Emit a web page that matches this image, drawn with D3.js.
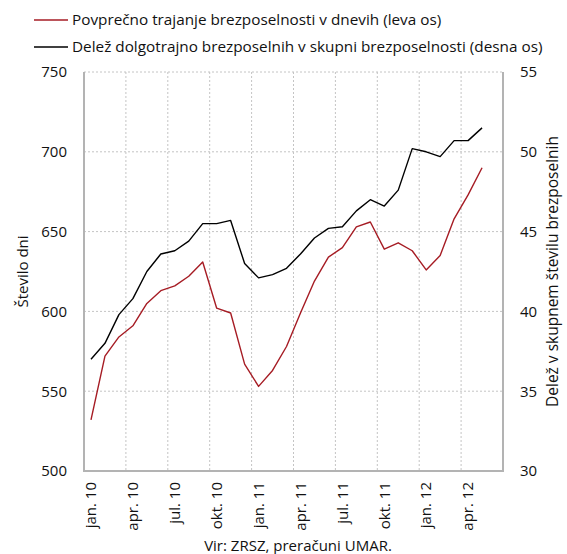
<!DOCTYPE html>
<html>
<head>
<meta charset="utf-8">
<script src="https://cdn.jsdelivr.net/npm/d3@7"></script>
<style>
  html, body { margin: 0; padding: 0; background: #fff; }
  svg { display: block; font-family: "Open Sans", "Noto Sans", sans-serif; }
</style>
</head>
<body>
<svg id="chart" width="567" height="554"></svg>
<script>
// ---- data ----
const months = ["jan. 10","feb. 10","mar. 10","apr. 10","maj. 10","jun. 10","jul. 10","avg. 10","sep. 10","okt. 10","nov. 10","dec. 10",
                "jan. 11","feb. 11","mar. 11","apr. 11","maj. 11","jun. 11","jul. 11","avg. 11","sep. 11","okt. 11","nov. 11","dec. 11",
                "jan. 12","feb. 12","mar. 12","apr. 12","maj. 12","jun. 12"];
const tickLabels = ["jan. 10","apr. 10","jul. 10","okt. 10","jan. 11","apr. 11","jul. 11","okt. 11","jan. 12","apr. 12"];
const durationDays = [532,572,584,591,605,613,616,622,631,602,599,567,553,563,578,599,619,634,640,653,656,639,643,638,626,635,658,673,690];
const longTermShare = [37.0,38.0,39.8,40.8,42.5,43.6,43.8,44.4,45.5,45.5,45.7,43.0,42.1,42.3,42.7,43.6,44.6,45.2,45.3,46.3,47.0,46.6,47.6,50.2,50.0,49.7,50.7,50.7,51.5];
const leftTicks = [500,550,600,650,700,750];
const rightTicks = [30,35,40,45,50,55];
const seriesNames = ["Povprečno trajanje brezposelnosti v dnevih (leva os)",
                     "Delež dolgotrajno brezposelnih v skupni brezposelnosti (desna os)"];
const leftTitle = "Število dni";
const rightTitle = "Delež v skupnem številu brezposelnih";
const sourceText = "Vir: ZRSZ, preračuni UMAR.";

// ---- layout ----
const plot = { left: 84, right: 503, top: 72, bottom: 471 };
const svg = d3.select("#chart");

const x = d3.scaleBand().domain(months).range([plot.left, plot.right]).padding(0);
const xc = d => x(d) + x.bandwidth() / 2;
const yL = d3.scaleLinear().domain([500, 750]).range([plot.bottom, plot.top]);
const yR = d3.scaleLinear().domain([30, 55]).range([plot.bottom, plot.top]);

const gridColor = "#c4c4c4";
const axisColor = "#b3b3b3";
const textColor = "#111";

// horizontal gridlines
svg.append("g").selectAll("line").data(leftTicks.slice(1)).join("line")
  .attr("x1", plot.left).attr("x2", plot.right)
  .attr("y1", d => yL(d)).attr("y2", d => yL(d))
  .attr("stroke", gridColor).attr("stroke-width", 1).attr("stroke-dasharray", "2,2");

// vertical gridlines (category boundaries, every 3 months)
const vIdx = d3.range(3, months.length, 3);
svg.append("g").selectAll("line").data(vIdx).join("line")
  .attr("x1", i => x(months[i])).attr("x2", i => x(months[i]))
  .attr("y1", plot.top).attr("y2", plot.bottom)
  .attr("stroke", gridColor).attr("stroke-width", 1).attr("stroke-dasharray", "2,2");

// frame
svg.append("path")
  .attr("d", `M${plot.left},${plot.top}V${plot.bottom}H${plot.right}V${plot.top}`)
  .attr("fill", "none").attr("stroke", axisColor).attr("stroke-width", 2);

// left axis labels
const axL = d3.axisLeft(yL).tickValues(leftTicks).tickSize(0).tickPadding(17);
const gL = svg.append("g").attr("transform", `translate(${plot.left},0)`).call(axL);
gL.select(".domain").remove();
gL.selectAll("text").attr("font-size", 15).attr("fill", textColor).attr("font-family", "Open Sans");

// right axis labels
const axR = d3.axisRight(yR).tickValues(rightTicks).tickSize(0).tickPadding(17);
const gR = svg.append("g").attr("transform", `translate(${plot.right},0)`).call(axR);
gR.select(".domain").remove();
gR.selectAll("text").attr("font-size", 15).attr("fill", textColor).attr("font-family", "Open Sans");

// x-axis labels (rotated)
const axB = d3.axisBottom(x).tickValues(tickLabels).tickSize(0).tickPadding(0);
const gB = svg.append("g").attr("transform", `translate(0,${plot.bottom})`).call(axB);
gB.select(".domain").remove();
gB.selectAll("text")
  .attr("font-size", 15).attr("fill", textColor).attr("font-family", "Open Sans")
  .attr("transform", "rotate(-90)")
  .attr("text-anchor", "end")
  .attr("x", -11).attr("y", 0).attr("dy", "0.35em");

// lines
const lineL = d3.line().x((d, i) => xc(months[i])).y(d => yL(d));
const lineR = d3.line().x((d, i) => xc(months[i])).y(d => yR(d));
svg.append("path").datum(longTermShare).attr("d", lineR)
  .attr("fill", "none").attr("stroke", "#000").attr("stroke-width", 1.4).attr("stroke-linejoin", "round");
svg.append("path").datum(durationDays).attr("d", lineL)
  .attr("fill", "none").attr("stroke", "#a61c24").attr("stroke-width", 1.4).attr("stroke-linejoin", "round");

// legend
const legColors = ["#a61c24", "#000"];
const legY = [20, 47];
seriesNames.forEach((name, i) => {
  svg.append("line").attr("x1", 34).attr("x2", 68).attr("y1", legY[i]).attr("y2", legY[i])
    .attr("stroke", legColors[i]).attr("stroke-width", 1.4);
  svg.append("text").attr("x", 72).attr("y", legY[i]).attr("dy", "0.35em")
    .attr("font-size", 15.3).attr("fill", textColor).text(name);
});

// axis titles
svg.append("text")
  .attr("transform", `translate(23,${(plot.top + plot.bottom) / 2}) rotate(-90)`)
  .attr("text-anchor", "middle").attr("dy", "0.35em")
  .attr("font-size", 15).attr("fill", textColor).text(leftTitle);
svg.append("text")
  .attr("transform", `translate(553,${(plot.top + plot.bottom) / 2}) rotate(-90)`)
  .attr("text-anchor", "middle").attr("dy", "0.35em")
  .attr("font-size", 15.5).attr("fill", textColor).text(rightTitle);

// source
svg.append("text").attr("x", 298).attr("y", 546).attr("dy", "0.35em")
  .attr("text-anchor", "middle").attr("font-size", 15).attr("fill", textColor).text(sourceText);
</script>
</body>
</html>
